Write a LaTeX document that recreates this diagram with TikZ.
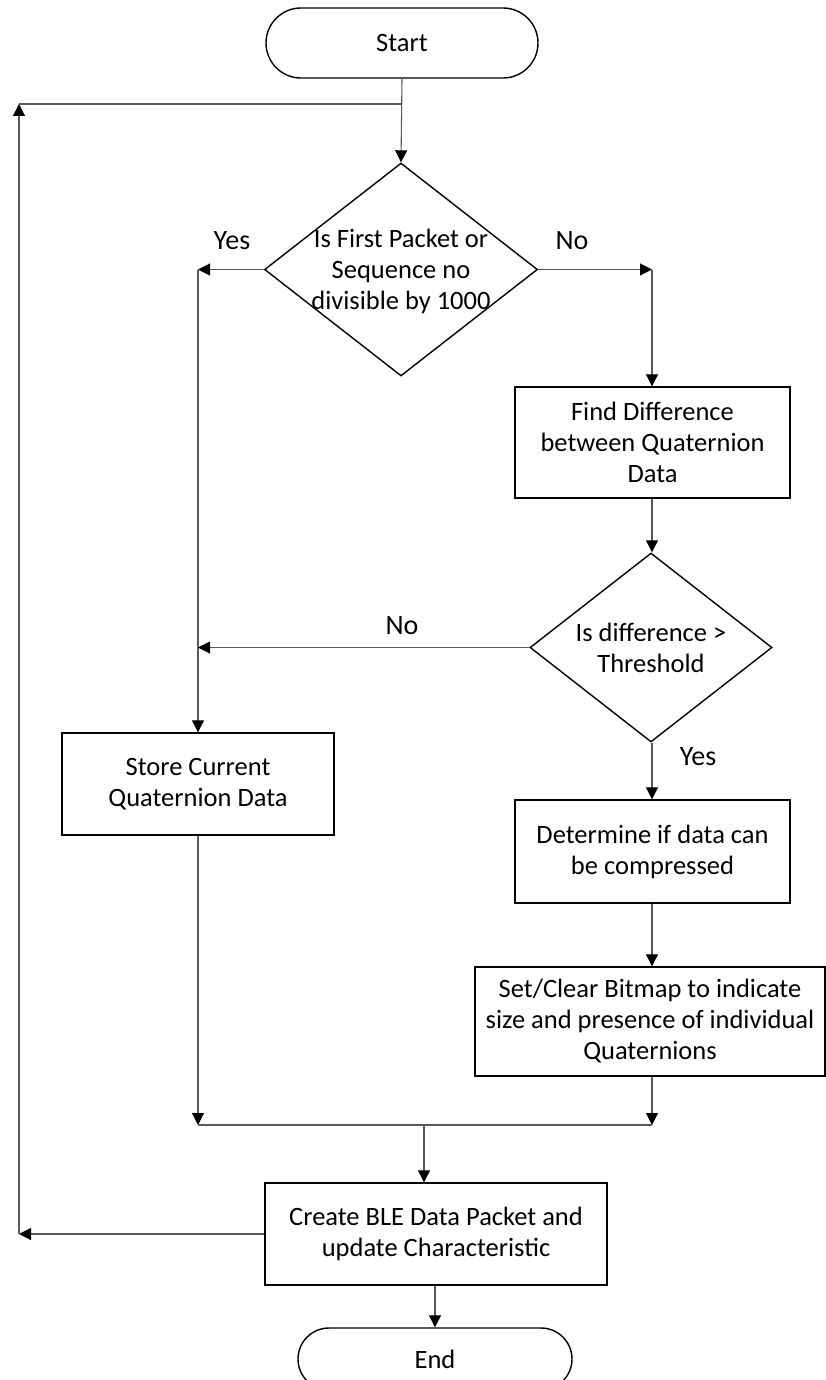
\documentclass[tikz,border=0pt]{standalone}
\usepackage{fontspec}
\setmainfont{Carlito}
\usetikzlibrary{arrows.meta,shapes.geometric,shapes.misc}
\tikzset{
  shp/.style={draw=black, line width=1.4pt, inner sep=0pt, text=black},
  boxshape/.style={shp, rectangle},
  termshape/.style={shp, rounded rectangle},
  decshape/.style={shp, diamond},
  txt/.style={align=center, font=\fontsize{26.5}{31}\selectfont, inner sep=0pt},
  conn/.style={draw=black!65, line width=1.1pt},
  arr/.style={conn, -{Triangle[length=12pt,width=12pt,color=black]}},
  lbl/.style={font=\fontsize{28}{32}\selectfont, inner sep=0pt}
}
\begin{document}
\begin{tikzpicture}[x=1pt,y=-1pt]
\useasboundingbox (0,0) rectangle (826,1380);
% shapes
\node[termshape, minimum width=272pt, minimum height=70pt] (start) at (402,43) {};
\node[txt] (starttxt) at (start) {Start};
\node[decshape, minimum width=273pt, minimum height=213pt] (d1) at (401,269.5) {};
\node[txt] (d1txt) at (401,271) {Is First Packet or\\Sequence no\\divisible by 1000};
\node[boxshape, minimum width=275pt, minimum height=111pt] (find) at (652.5,442.5) {};
\node[txt] (findtxt) at (find) {Find Difference\\between Quaternion\\Data};
\node[decshape, minimum width=242pt, minimum height=189pt] (d2) at (651,647.5) {};
\node[txt] (d2txt) at (651,648) {Is difference >\\Threshold};
\node[boxshape, minimum width=272pt, minimum height=102pt] (store) at (198,784) {};
\node[txt] (storetxt) at (store) {Store Current\\Quaternion Data};
\node[boxshape, minimum width=350pt, minimum height=109pt] (bit) at (650,1021.5) {};
\node[boxshape, minimum width=275pt, minimum height=103pt] (det) at (652.5,851.5) {};
\node[txt] (dettxt) at (det) {Determine if data can\\be compressed};
\node[txt] (bittxt) at (bit) {Set/Clear Bitmap to indicate\\size and presence of individual\\Quaternions};
\node[boxshape, minimum width=342pt, minimum height=102pt] (ble) at (436,1234) {};
\node[txt] (bletxt) at (ble) {Create BLE Data Packet and\\update Characteristic};
\node[termshape, minimum width=274pt, minimum height=62pt] (end) at (435,1359) {};
\node[txt] (endtxt) at (end) {End};
% coordinates
\coordinate (topj) at (402,104);
\coordinate (loopTL) at (19,104);
\coordinate (loopBL) at (19,1234);
\coordinate (yesc) at (198,269.5);
\coordinate (noc) at (652,269.5);
\coordinate (no2c) at (198,647.5);
\coordinate (mergeL) at (198,1125);
\coordinate (mergeR) at (652,1125);
\coordinate (mergeM) at (424,1125);
% connectors
\draw[arr] (start.south) -- (d1.north);
\draw[arr] (d1.west) -- (yesc);
\draw[arr] (yesc) -- (store.north -| yesc);
\draw[arr] (d1.east) -- (noc);
\draw[arr] (noc) -- (find.north -| noc);
\draw[arr] (find.south -| noc) -- (d2.north -| noc);
\draw[arr] (d2.west) -- (no2c);
\draw[arr] (d2.south -| noc) -- (det.north -| noc);
\draw[arr] (det.south -| noc) -- (bit.north -| noc);
\draw[arr] (store.south -| mergeL) -- (mergeL);
\draw[arr] (bit.south -| mergeR) -- (mergeR);
\draw[conn] (mergeL) -- (mergeR);
\draw[arr] (mergeM) -- (ble.north -| mergeM);
\draw[arr] (ble.south -| end) -- (end.north);
\draw[arr] (ble.west) -- (loopBL);
\draw[arr] (loopBL) -- (loopTL);
\draw[conn] (loopTL) -- (topj);
% labels
\node[lbl] (yes1) at (232,241) {Yes};
\node[lbl] (no1) at (572,241) {No};
\node[lbl] (no2) at (402,626) {No};
\node[lbl] (yes2) at (698,757) {Yes};
\end{tikzpicture}
\end{document}
